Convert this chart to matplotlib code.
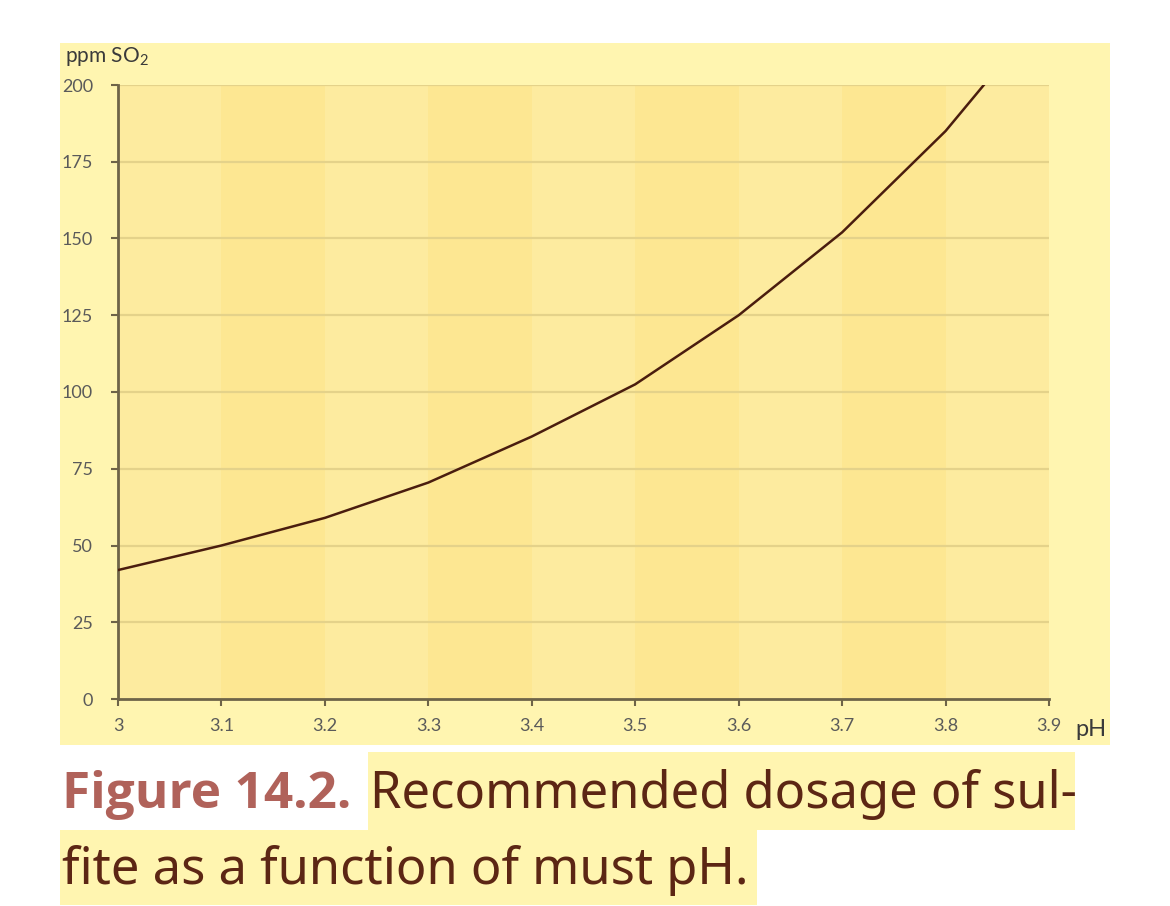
import matplotlib
matplotlib.use('Agg')
import matplotlib.pyplot as plt
from matplotlib.patches import Rectangle

# readings
ph = [3.0, 3.1, 3.2, 3.3, 3.4, 3.5, 3.6, 3.7, 3.8, 3.837]
so2 = [42, 50, 59, 70.5, 85.5, 102.5, 125, 152, 185, 200]

x_ticks = [3, 3.1, 3.2, 3.3, 3.4, 3.5, 3.6, 3.7, 3.8, 3.9]
x_labels = ['3', '3.1', '3.2', '3.3', '3.4', '3.5', '3.6', '3.7', '3.8', '3.9']
y_ticks = [0, 25, 50, 75, 100, 125, 150, 175, 200]

caption_fig = 'Figure 14.2.'
caption_1 = 'Recommended dosage of sul-'
caption_2 = 'fite as a function of must pH.'

panel = '#fff5b0'
band_light = '#fdeb9f'
band_dark = '#fde792'
axis_col = '#6e6448'

fig = plt.figure(figsize=(11.7, 9.06), dpi=100)
fig.patch.set_facecolor('white')

# yellow panel behind the chart
fig.patches.append(Rectangle((60 / 1170, 1 - 745 / 906), 1050 / 1170, 702 / 906,
                             transform=fig.transFigure, facecolor=panel,
                             edgecolor='none', zorder=-5))

ax = fig.add_axes([118 / 1170, 1 - 699 / 906, 931 / 1170, 614 / 906])
ax.set_zorder(2)
ax.set_facecolor(band_light)
ax.set_xlim(3, 3.9)
ax.set_ylim(0, 200)

# alternating vertical bands
for i in range(len(x_ticks) - 1):
    c = band_dark if i % 2 == 1 else band_light
    ax.axvspan(x_ticks[i], x_ticks[i + 1], color=c, lw=0, zorder=0)

for y in y_ticks[1:]:
    ax.axhline(y, color='#e4d28a', lw=1.6, zorder=1)

ax.plot(ph, so2, color='#4a1d0e', lw=1.8, zorder=3)

for s in ['top', 'right']:
    ax.spines[s].set_visible(False)
for s in ['left', 'bottom']:
    ax.spines[s].set_color(axis_col)
    ax.spines[s].set_linewidth(2)

ax.set_xticks(x_ticks)
ax.set_xticklabels(x_labels)
ax.set_yticks(y_ticks)
ax.tick_params(axis='both', colors=axis_col, length=5, width=1.5, labelcolor='#5a5a5a',
               labelsize=13)
ax.tick_params(axis='x', pad=9)
ax.tick_params(axis='y', pad=13)
for lab in ax.get_xticklabels() + ax.get_yticklabels():
    lab.set_family('Lato')

fig.text(65 / 1170, 1 - 57 / 906, r'ppm $\mathregular{SO_2}$', fontsize=15,
         family='Lato', color='#3a3a3a', va='center', ha='left')
fig.text(1075 / 1170, 1 - 729 / 906, 'pH', fontsize=17, family='Lato',
         color='#3a3a3a', va='center', ha='left')

# caption with highlighter boxes
fig.patches.append(Rectangle((368 / 1170, 1 - 830 / 906), 707 / 1170, 78 / 906,
                             transform=fig.transFigure, facecolor='#fff5b0',
                             edgecolor='none', zorder=-5))
fig.patches.append(Rectangle((60 / 1170, 1 - 905 / 906), 697 / 1170, 75 / 906,
                             transform=fig.transFigure, facecolor='#fff5b0',
                             edgecolor='none', zorder=-5))

fig.text(62 / 1170, 1 - 808 / 906, caption_fig, fontsize=37, family='Open Sans',
         weight='bold', color='#b0625a', va='baseline', ha='left')
fig.text(370 / 1170, 1 - 808 / 906, caption_1, fontsize=36.5, family='Noto Sans',
         color='#5c2614', va='baseline', ha='left')
fig.text(62 / 1170, 1 - 884 / 906, caption_2, fontsize=36.5, family='Noto Sans',
         color='#5c2614', va='baseline', ha='left')

fig.savefig('out.png', dpi=100, facecolor='white')
